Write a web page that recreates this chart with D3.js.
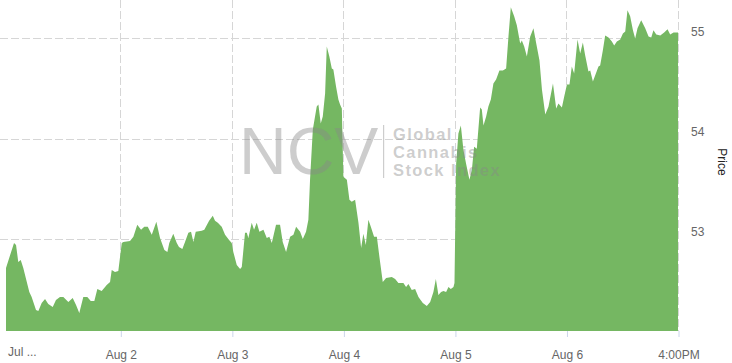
<!DOCTYPE html>
<html><head><meta charset="utf-8">
<script src="https://cdn.jsdelivr.net/npm/d3@7"></script>
<style>html,body{margin:0;padding:0;background:#fff;}svg{display:block;font-family:"Liberation Sans",Arial,sans-serif;}</style>
</head><body>
<svg id="chart" width="732" height="363"></svg>
<script>
// time in trading-day units from the Jul 31 session start; 6 = Aug 6 4:00PM
const times = [-0.025,0.047,0.065,0.085,0.107,0.130,0.184,0.205,0.244,0.265,0.295,0.325,0.354,0.394,0.423,0.459,0.489,0.534,0.573,0.603,0.632,0.668,0.704,0.735,0.767,0.794,0.833,0.878,0.908,0.923,0.952,0.982,
1.013,1.027,1.087,1.117,1.152,1.186,1.215,1.246,1.282,1.323,1.356,1.395,1.422,1.439,1.475,1.506,1.526,1.556,1.580,1.610,1.634,1.655,1.676,1.730,1.753,1.796,1.829,1.849,1.874,1.909,1.939,1.975,1.999,
2.013,2.044,2.074,2.089,2.118,2.134,2.148,2.178,2.199,2.223,2.247,2.283,2.313,2.336,2.358,2.396,2.432,2.456,2.486,2.522,2.552,2.576,2.612,2.636,2.665,2.686,2.701,2.726,2.761,2.776,2.797,2.815,2.836,2.851,2.874,2.896,2.910,2.934,2.955,2.970,2.986,
3.000,3.031,3.054,3.075,3.105,3.135,3.159,3.179,3.201,3.224,3.246,3.275,3.300,3.323,3.353,3.383,3.434,3.464,3.493,3.538,3.562,3.583,3.613,3.643,3.673,3.712,3.748,3.778,3.807,3.829,3.852,3.876,3.897,3.921,3.942,3.963,3.987,3.996,
4.011,4.031,4.053,4.076,4.100,4.130,4.152,4.172,4.196,4.226,4.241,4.256,4.280,4.300,4.322,4.345,4.369,4.399,4.430,4.459,4.480,4.501,4.531,4.555,4.585,4.600,4.621,4.645,4.675,4.704,4.729,4.758,4.780,4.810,4.839,4.879,4.908,4.928,4.959,4.980,
5.004,5.027,5.048,5.069,5.099,5.123,5.147,5.168,5.197,5.213,5.237,5.257,5.287,5.302,5.326,5.347,5.377,5.407,5.428,5.452,5.482,5.506,5.527,5.547,5.571,5.596,5.616,5.637,5.670,5.706,5.736,5.760,5.780,5.805,5.841,5.876,5.906,5.930,5.960,5.984,6.000];

const prices = [52.71,52.96,52.94,52.77,52.79,52.71,52.47,52.42,52.29,52.28,52.36,52.40,52.35,52.32,52.39,52.42,52.42,52.37,52.41,52.34,52.26,52.42,52.42,52.38,52.38,52.50,52.48,52.54,52.57,52.69,52.67,52.68,
52.96,52.97,52.98,53.02,53.14,53.09,53.12,53.12,53.04,53.17,53.01,52.89,52.87,52.96,53.05,52.96,52.92,52.90,52.97,53.06,53.07,52.97,53.07,53.08,53.09,53.18,53.23,53.18,53.16,53.12,53.04,52.99,52.96,
52.87,52.74,52.70,52.72,53.06,53.06,53.01,53.16,53.09,53.16,53.07,53.09,53.01,53.02,52.96,53.14,53.14,52.97,52.87,53.02,53.04,53.12,53.07,53.00,53.07,53.19,53.59,54.09,54.32,54.34,54.15,54.22,54.45,54.92,54.82,54.70,54.69,54.52,54.39,54.34,54.30,
53.62,53.59,53.39,53.37,53.39,53.16,52.91,53.05,52.94,53.19,53.12,53.02,53.02,52.82,52.57,52.61,52.62,52.60,52.56,52.56,52.52,52.55,52.49,52.50,52.42,52.36,52.33,52.37,52.47,52.60,52.44,52.47,52.48,52.47,52.52,52.50,52.52,52.56,
53.75,54.05,54.13,53.89,53.75,53.59,53.69,53.92,53.90,54.31,54.29,54.13,54.22,54.32,54.39,54.55,54.59,54.68,54.68,54.70,55.02,55.31,55.22,55.13,54.95,54.98,54.92,54.82,55.02,55.10,54.95,54.78,54.49,54.24,54.32,54.55,54.30,54.35,54.31,54.42,
54.54,54.54,54.72,54.65,54.99,54.85,54.96,54.83,54.67,54.68,54.57,54.63,54.72,54.73,54.88,55.03,55.01,54.97,54.93,54.97,54.99,55.05,55.07,55.28,55.22,55.08,55.00,55.10,55.18,55.10,55.02,55.01,55.08,55.04,55.03,55.06,55.09,55.04,55.06,55.06,55.06];

const xTickValues = [1, 2, 3, 4, 5, 6];
const xTickLabels = ["Aug 2", "Aug 3", "Aug 4", "Aug 5", "Aug 6", "4:00PM"];
const firstLabel = "Jul ...";
const yTickValues = [53, 54, 55];
const yTitle = "Price";

const svg = d3.select("#chart");
const plotLeft = 6, plotRight = 678, plotTop = 0, plotBottom = 331;

const x = d3.scaleLinear().domain([-0.025, 6]).range([plotLeft, plotRight]);
const y = d3.scaleLinear().domain([52.081, 55.383]).range([plotBottom, plotTop]);

const data = times.map((t, i) => ({t, p: prices[i]}));

// gridlines
const grid = svg.append("g");
grid.selectAll("line.h").data(yTickValues).join("line")
  .attr("x1", 0).attr("x2", plotRight)
  .attr("y1", d => Math.round(y(d)) + 0.5).attr("y2", d => Math.round(y(d)) + 0.5)
  .attr("stroke", "#d6d6d6").attr("stroke-width", 1).attr("stroke-dasharray", "8,3");
grid.selectAll("line.v").data(xTickValues).join("line")
  .attr("x1", d => Math.round(x(d)) + 0.5).attr("x2", d => Math.round(x(d)) + 0.5)
  .attr("y1", 0).attr("y2", plotBottom)
  .attr("stroke", "#d6d6d6").attr("stroke-width", 1).attr("stroke-dasharray", "8,3");

// area
const area = d3.area().x(d => x(d.t)).y0(plotBottom).y1(d => y(d.p)).curve(d3.curveLinear);
svg.append("path").datum(data).attr("d", area).attr("fill", "#75b762");

// watermark
const wm = svg.append("g").attr("fill", "#888").attr("fill-opacity", 0.42);
wm.append("text").attr("x", 239).attr("y", 174).attr("font-size", 66).text("NCV");
wm.append("rect").attr("x", 383).attr("y", 125).attr("width", 1.2).attr("height", 53);
const wl = ["Global", "Cannabis", "Stock Index"];
wm.selectAll("text.l").data(wl).join("text")
  .attr("x", 393).attr("y", (d, i) => 140 + i * 17.8)
  .attr("font-size", 16.5).attr("font-weight", "bold").attr("letter-spacing", 1.4)
  .text(d => d);

// x axis ticks
const xAxis = d3.axisBottom(x).tickValues(xTickValues).tickSize(6).tickPadding(13)
  .tickFormat((d, i) => xTickLabels[i]);
const gx = svg.append("g").attr("transform", `translate(0.5,${plotBottom})`).call(xAxis);
gx.select(".domain").remove();
gx.selectAll(".tick line").attr("stroke", "#ccd6eb");
gx.selectAll(".tick text").attr("fill", "#666").attr("font-size", 12)
  .attr("font-family", "Liberation Sans, Arial, sans-serif");
svg.append("text").attr("x", 8).attr("y", 356).attr("fill", "#666").attr("font-size", 12).text(firstLabel);

// y axis (right)
const yAxis = d3.axisRight(y).tickValues(yTickValues).tickSize(0).tickPadding(0).tickFormat(d3.format("d"));
const gy = svg.append("g").attr("transform", `translate(691,0)`).call(yAxis);
gy.select(".domain").remove();
gy.selectAll(".tick text").attr("fill", "#666").attr("font-size", 12).attr("dy", "-3")
  .attr("dominant-baseline", "auto").attr("y", 0)
  .attr("font-family", "Liberation Sans, Arial, sans-serif");

svg.append("text").attr("transform", "translate(718,162) rotate(90)")
  .attr("text-anchor", "middle").attr("font-size", 12).attr("fill", "#222").text(yTitle);
</script>
</body></html>
